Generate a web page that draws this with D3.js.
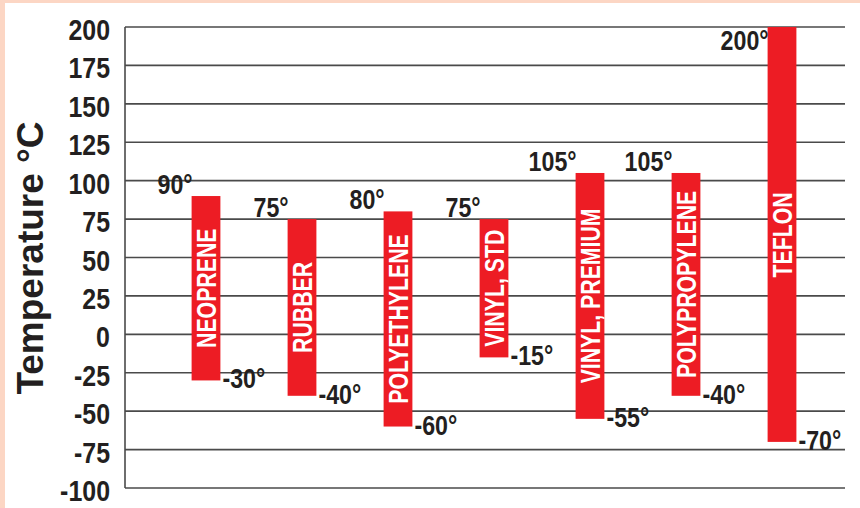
<!DOCTYPE html>
<html>
<head>
<meta charset="utf-8">
<script src="https://cdn.jsdelivr.net/npm/d3@7"></script>
<style>
  body { margin: 0; background: #fcd6c4; }
  text { font-family: "Liberation Sans", Arial, sans-serif; font-weight: bold; }
</style>
</head>
<body>
<script>
// temperature ranges for tubing materials
var materials = ['NEOPRENE', 'RUBBER', 'POLYETHYLENE', 'VINYL, STD',
  'VINYL, PREMIUM', 'POLYPROPYLENE', 'TEFLON'];
var highTemps = [90, 75, 80, 75, 105, 105, 200];
var lowTemps = [-30, -40, -60, -15, -55, -40, -70];
var tickValues = [-100, -75, -50, -25, 0, 25, 50, 75, 100, 125, 150, 175, 200];

var rows = materials.map(function(m, i) {
  return {name: m, hi: highTemps[i], lo: lowTemps[i]};
});

// no narrow font around, so squeeze the regular bold one
var squeeze = 0.86;

var svg = d3.select('body').append('svg')
  .attr('width', 860)
  .attr('height', 508)
  .style('display', 'block');

// peach frame, white panel
svg.append('rect').attr('width', 860).attr('height', 508).attr('fill', '#fcd6c4');
svg.append('rect').attr('x', 5).attr('y', 3).attr('width', 855).attr('height', 505).attr('fill', '#fff');

var y = d3.scaleLinear().domain([-100, 200]).range([488, 27]);
var x = d3.scaleBand().domain(materials).range([158, 830])
  .paddingInner(0.7).paddingOuter(0.35);

// grid lines
svg.selectAll('.grid')
  .data(tickValues)
  .enter().append('line')
  .attr('class', 'grid')
  .attr('x1', 125).attr('x2', 845)
  .attr('y1', function(d) { return y(d); })
  .attr('y2', function(d) { return y(d); })
  .attr('stroke', '#4a4a4a')
  .attr('stroke-width', 1.6);

svg.append('line')
  .attr('x1', 125).attr('x2', 125)
  .attr('y1', y(200)).attr('y2', y(-100))
  .attr('stroke', '#4a4a4a')
  .attr('stroke-width', 1.6);

// tick labels
svg.selectAll('.tick')
  .data(tickValues)
  .enter().append('text')
  .attr('class', 'tick')
  .attr('transform', function(d) { return 'translate(110,' + (y(d) + 13) + ') scale(' + squeeze + ',1)'; })
  .attr('text-anchor', 'end')
  .attr('font-size', 29)
  .attr('fill', '#231f20')
  .text(function(d) { return d; });

// axis title
svg.append('text')
  .attr('transform', 'translate(43,258) rotate(-90)')
  .attr('text-anchor', 'middle')
  .attr('font-size', 37)
  .attr('fill', '#231f20')
  .text('Temperature \u00b0C');

// bars
svg.selectAll('.bar')
  .data(rows)
  .enter().append('rect')
  .attr('class', 'bar')
  .attr('x', function(d) { return x(d.name); })
  .attr('width', x.bandwidth())
  .attr('y', function(d) { return y(d.hi); })
  .attr('height', function(d) { return y(d.lo) - y(d.hi); })
  .attr('fill', '#ed1c24');

// names inside bars
svg.selectAll('.name')
  .data(rows)
  .enter().append('text')
  .attr('class', 'name')
  .attr('font-size', 28)
  .attr('fill', '#fff')
  .attr('text-anchor', 'middle')
  .attr('dy', '0.36em')
  .attr('transform', function(d) {
    var cx = x(d.name) + x.bandwidth() / 2;
    var cy = (y(d.hi) + y(d.lo)) / 2;
    if (d.hi > 150) cy = y(105) + 62; // tall bar: label sits up top
    return 'translate(' + cx + ',' + cy + ') rotate(-90) scale(0.76,1)';
  })
  .text(function(d) { return d.name; });

// high labels
svg.selectAll('.hi')
  .data(rows)
  .enter().append('text')
  .attr('class', 'hi')
  .attr('transform', function(d) {
    return 'translate(' + (x(d.name) + 1) + ',' + Math.max(y(d.hi) - 2, 50) + ') scale(' + squeeze + ',1)';
  })
  .attr('text-anchor', 'end')
  .attr('font-size', 27)
  .attr('fill', '#231f20')
  .text(function(d) { return d.hi + '\u00b0'; });

// low labels
svg.selectAll('.lo')
  .data(rows)
  .enter().append('text')
  .attr('class', 'lo')
  .attr('transform', function(d) {
    return 'translate(' + (x(d.name) + x.bandwidth() + 2) + ',' + (y(d.lo) + 8) + ') scale(' + squeeze + ',1)';
  })
  .attr('font-size', 27)
  .attr('fill', '#231f20')
  .text(function(d) { return d.lo + '\u00b0'; });
</script>
</body>
</html>
